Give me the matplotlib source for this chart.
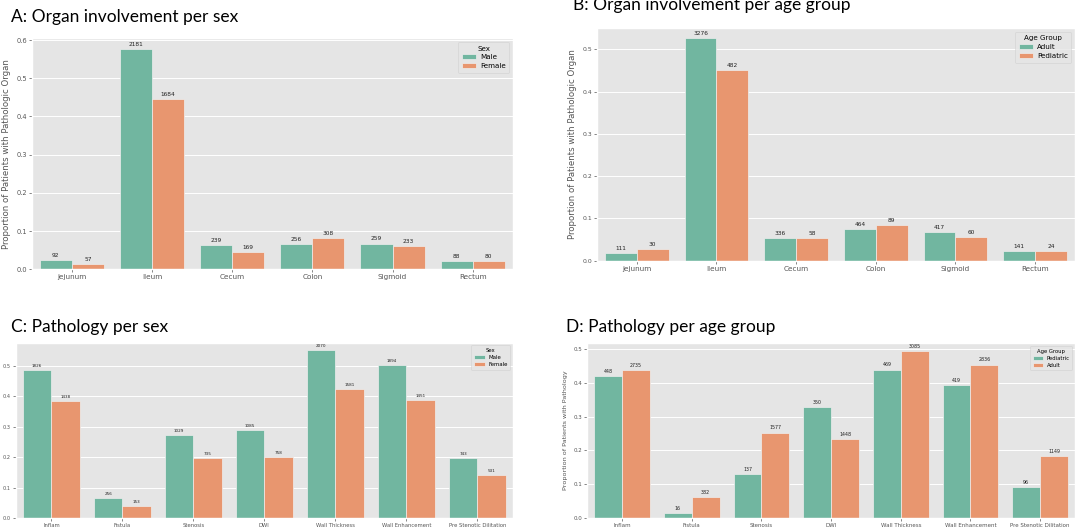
"""Four-panel grouped bar chart: organ involvement and pathology by sex / age group."""

import matplotlib

matplotlib.use("Agg")
import matplotlib.pyplot as plt
import numpy as np

W, H = 1078, 529

# Panel A / B: organ involvement
ORGANS = ["jejunum", "Ileum", "Cecum", "Colon", "Sigmoid", "Rectum"]

A_MALE = [0.0235, 0.577, 0.0625, 0.0665, 0.0675, 0.0225]
A_FEMALE = [0.0145, 0.4465, 0.0445, 0.0815, 0.0615, 0.0205]
A_MALE_N = [92, 2181, 239, 256, 259, 88]
A_FEMALE_N = [57, 1684, 169, 308, 233, 80]

B_ADULT = [0.0178, 0.526, 0.0538, 0.0745, 0.067, 0.0225]
B_PED = [0.028, 0.452, 0.054, 0.0835, 0.0563, 0.0225]
B_ADULT_N = [111, 3276, 336, 464, 417, 141]
B_PED_N = [30, 482, 58, 89, 60, 24]

# Panel C / D: pathology
PATHOLOGIES = ["Inflam", "Fistula", "Stenosis", "DWI", "Wall Thickness",
               "Wall Enhancement", "Pre Stenotic Dilitation"]

C_MALE = [0.486, 0.067, 0.274, 0.288, 0.551, 0.503, 0.198]
C_FEMALE = [0.384, 0.040, 0.196, 0.202, 0.4225, 0.388, 0.141]
C_MALE_N = [1826, 256, 1029, 1085, 2070, 1894, 743]
C_FEMALE_N = [1438, 153, 735, 758, 1581, 1451, 531]

D_PED = [0.420, 0.015, 0.1285, 0.328, 0.440, 0.393, 0.090]
D_ADULT = [0.439, 0.0613, 0.253, 0.2325, 0.495, 0.455, 0.1844]
D_PED_N = [448, 16, 137, 350, 469, 419, 96]
D_ADULT_N = [2735, 382, 1577, 1448, 3085, 2836, 1149]

GREEN = "#71b6a0"
ORANGE = "#e8966f"

plt.style.use("ggplot")
plt.rcParams["font.family"] = ["DejaVu Sans"]


def px_axes(fig, left, top, right, bottom):
    """Axes placed by pixel box on the WxH canvas."""
    return fig.add_axes([left / W, 1 - bottom / H, (right - left) / W, (bottom - top) / H])


def panel(ax, cats, s1, s2, n1, n2, labels, legend_title, ymax, yticks, ylabel,
          tick_fs, xtick_fs, bar_fs, leg_fs, ylab_fs, ylab_x=None):
    x = np.arange(len(cats))
    b1 = ax.bar(x - 0.2, s1, 0.4, color=GREEN, edgecolor="#EEEEEE", linewidth=0.5, label=labels[0])
    b2 = ax.bar(x + 0.2, s2, 0.4, color=ORANGE, edgecolor="#EEEEEE", linewidth=0.5, label=labels[1])
    ax.bar_label(b1, labels=[str(v) for v in n1], padding=1.5, fontsize=bar_fs, color="#222222")
    ax.bar_label(b2, labels=[str(v) for v in n2], padding=1.5, fontsize=bar_fs, color="#222222")
    ax.set_xlim(-0.5, len(cats) - 0.5)
    ax.set_ylim(0, ymax)
    ax.set_yticks(yticks)
    ax.set_yticklabels([f"{t:.1f}" for t in yticks])
    ax.set_xticks(x)
    ax.set_xticklabels(cats)
    ax.tick_params(axis="y", labelsize=tick_fs, length=2, width=0.5, pad=1.5)
    ax.tick_params(axis="x", labelsize=xtick_fs, length=2, width=0.5, pad=1.5)
    ax.grid(axis="x", visible=False)
    ax.grid(axis="y", color="white", linewidth=0.7)
    ax.set_axisbelow(True)
    ax.set_ylabel(ylabel, fontsize=ylab_fs, color="#555555")
    if ylab_x is not None:
        ax.yaxis.set_label_coords(ylab_x, 0.5)
    leg = ax.legend(title=legend_title, loc="upper right", fontsize=leg_fs,
                    title_fontsize=leg_fs, handlelength=2.0, handleheight=0.7,
                    labelspacing=0.4, borderpad=0.5, handletextpad=0.6)
    leg.get_frame().set_linewidth(0.4)


fig = plt.figure(figsize=(W / 100, H / 100), dpi=100)

title_kw = dict(fontsize=12.5, family=["Lato", "DejaVu Sans"], color="black", va="baseline")

# A
axA = px_axes(fig, 31.7, 38.5, 512.8, 269.3)
panel(axA, ORGANS, A_MALE, A_FEMALE, A_MALE_N, A_FEMALE_N, ["Male", "Female"], "Sex",
      0.604, np.arange(0, 0.61, 0.1), "Proportion of Patients with Pathologic Organ",
      4.8, 5.2, 4.2, 5.1, 6.2)
fig.text(11 / W, 1 - 21.7 / H, "A: Organ involvement per sex", **title_kw)

# B
axB = px_axes(fig, 596.9, 28.3, 1075, 260.7)
panel(axB, ORGANS, B_ADULT, B_PED, B_ADULT_N, B_PED_N, ["Adult", "Pediatric"], "Age Group",
      0.55, np.arange(0, 0.51, 0.1), "Proportion of Patients with Pathologic Organ",
      4.4, 5.2, 4.2, 5.1, 6.2)
fig.text(573 / W, 1 - 10 / H, "B: Organ involvement per age group", **title_kw)

# C
axC = px_axes(fig, 15.9, 342.5, 512.8, 518.3)
panel(axC, PATHOLOGIES, C_MALE, C_FEMALE, C_MALE_N, C_FEMALE_N, ["Male", "Female"], "Sex",
      0.576, np.arange(0, 0.51, 0.1), "Proportion of Patients with Pathology",
      3.6, 3.8, 3.0, 3.9, 4.6, ylab_x=-0.033)
fig.text(11.4 / W, 1 - 331.7 / H, "C: Pathology per sex", **title_kw)

# D
axD = px_axes(fig, 587.2, 343.3, 1075, 517.7)
panel(axD, PATHOLOGIES, D_PED, D_ADULT, D_PED_N, D_ADULT_N, ["Pediatric", "Adult"], "Age Group",
      0.518, np.arange(0, 0.51, 0.1), "Proportion of Patients with Pathology",
      4.0, 4.0, 3.4, 3.8, 4.6)
fig.text(566 / W, 1 - 332.3 / H, "D: Pathology per age group", **title_kw)

fig.savefig("out.png", dpi=100, facecolor="white")
